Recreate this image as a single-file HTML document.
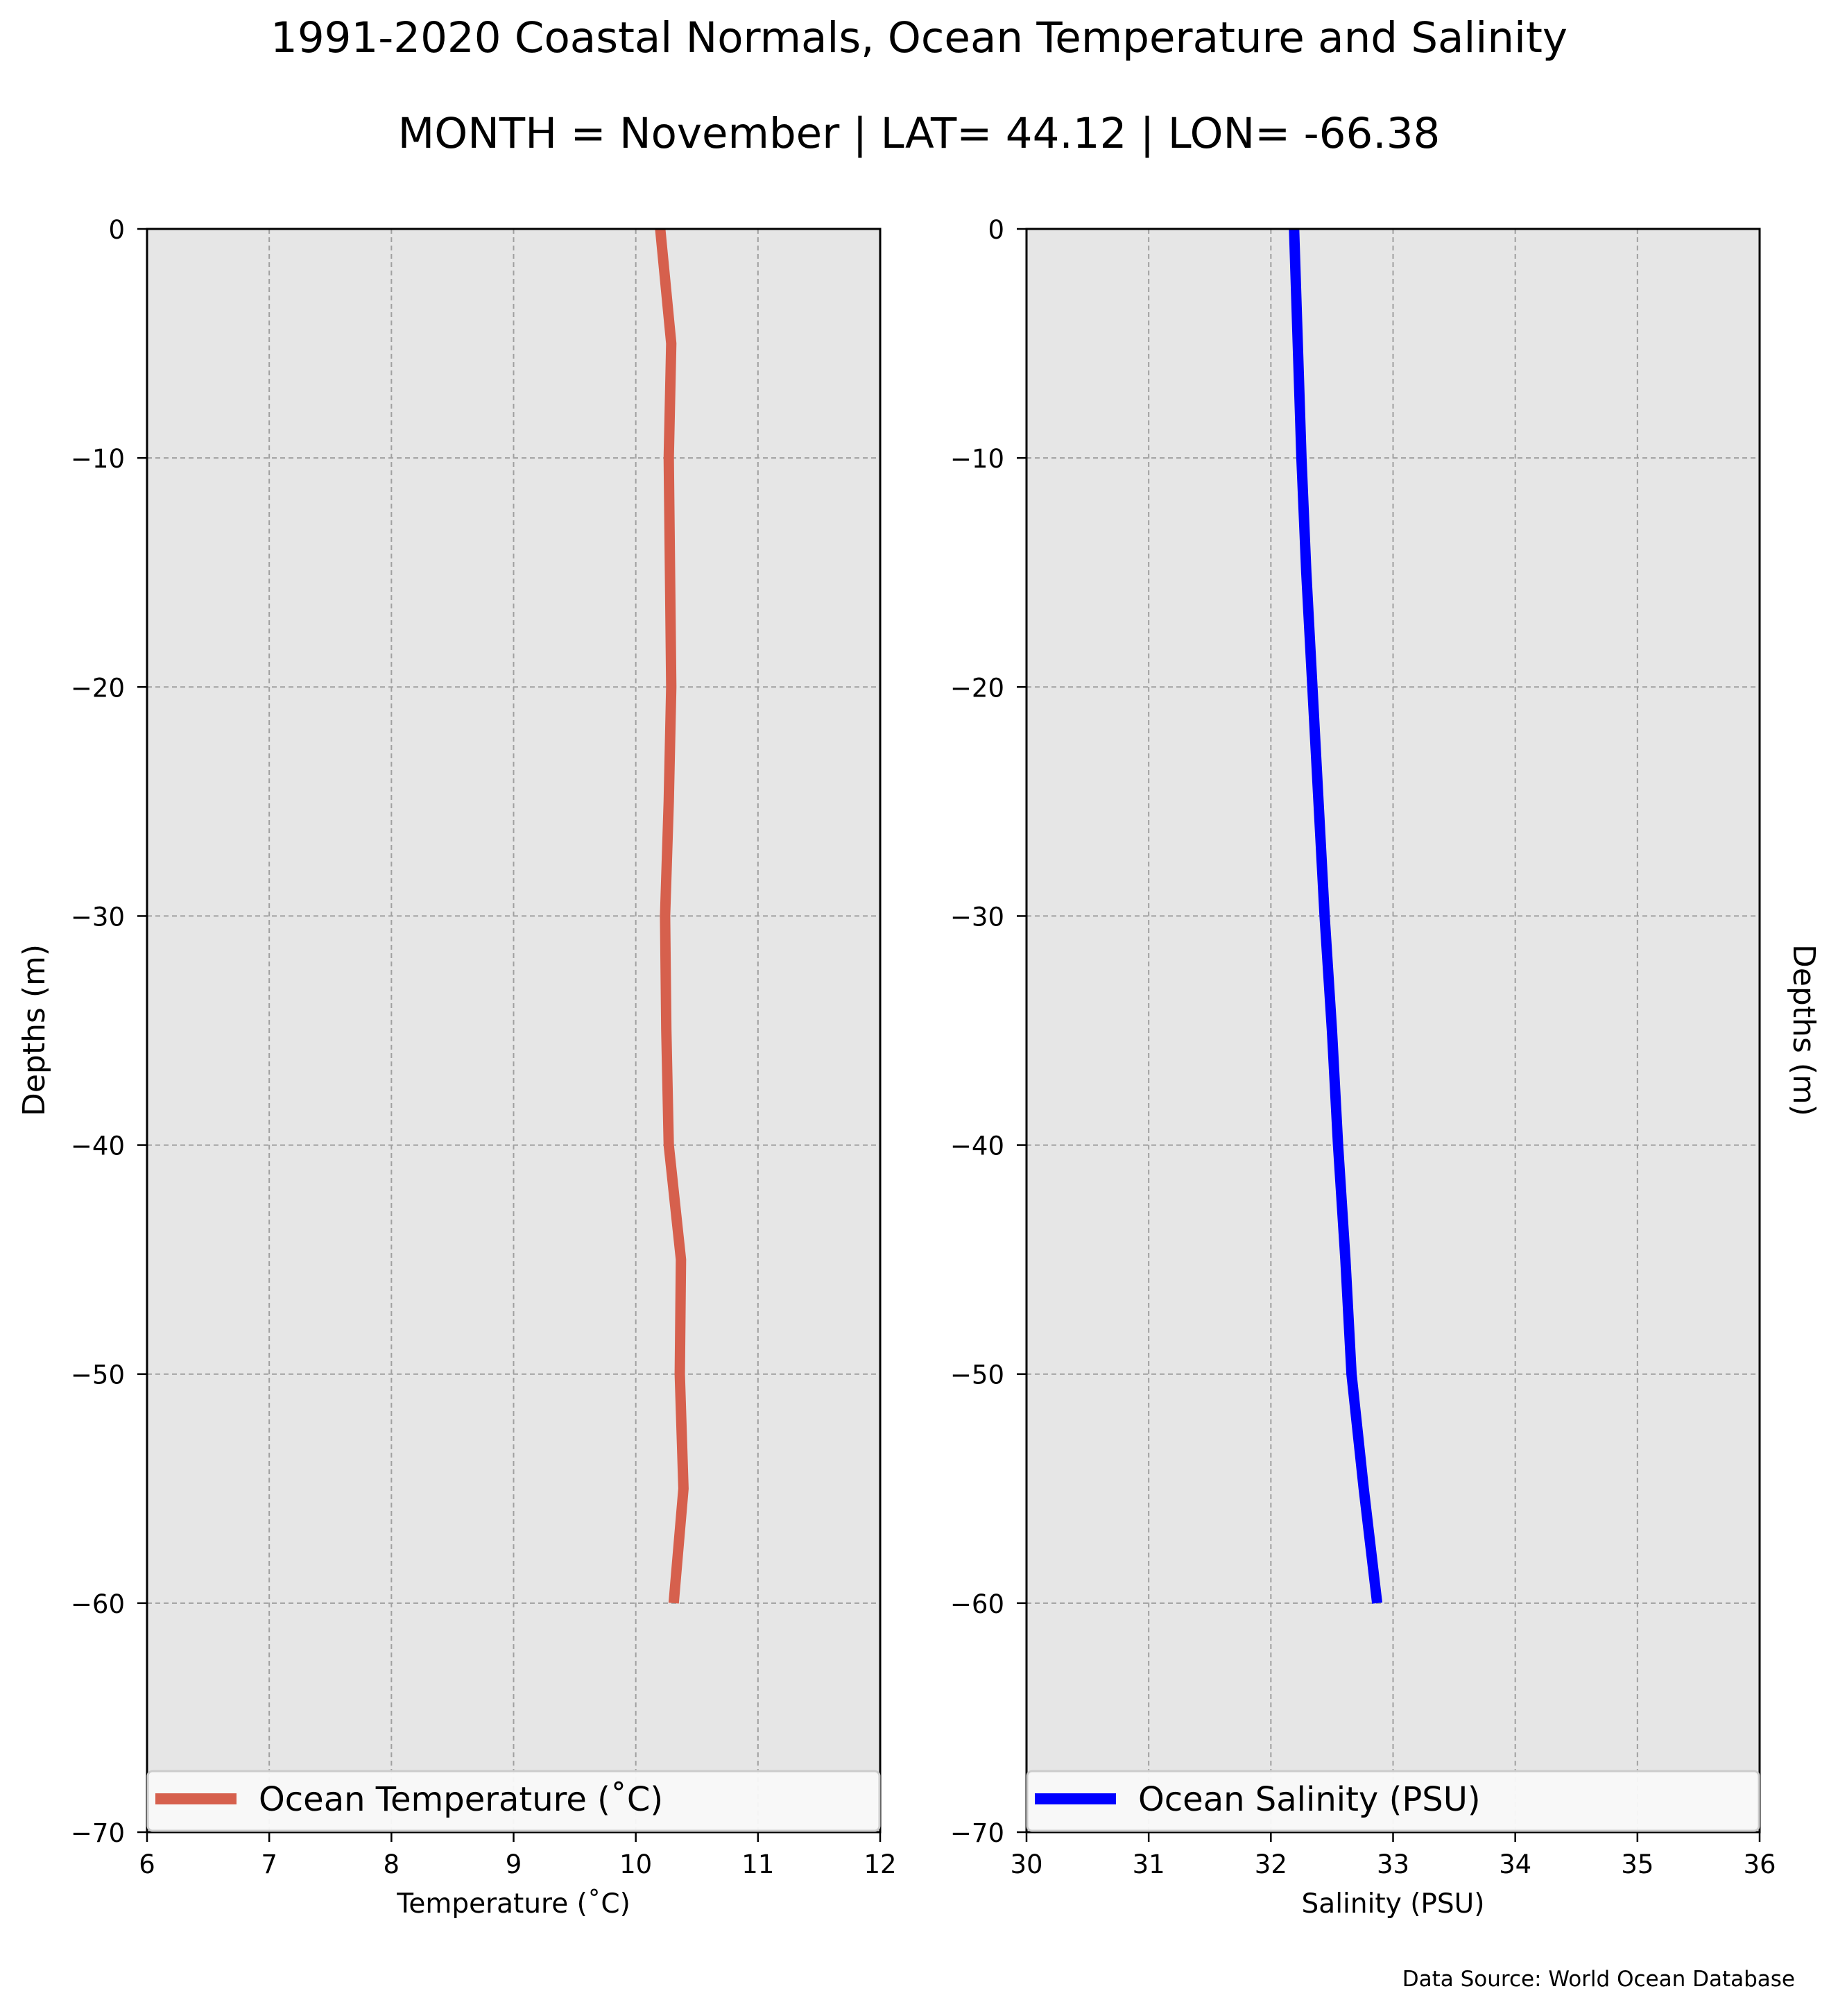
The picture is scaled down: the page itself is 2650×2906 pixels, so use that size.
<!DOCTYPE html>
<html><head><meta charset="utf-8"><style>
html,body{margin:0;padding:0;background:#fff;}
svg text{font-family:"DejaVu Sans","Liberation Sans",sans-serif;fill:#000;}
</style></head><body>
<svg id="fig" xmlns="http://www.w3.org/2000/svg" width="2650" height="2901" viewBox="0 0 2650 2901">
<rect width="2650" height="2901" fill="#fff"/>
<text x="1325" y="75" font-size="61" text-anchor="middle">1991-2020 Coastal Normals, Ocean Temperature and Salinity</text>
<text x="1325" y="213" font-size="61" text-anchor="middle">MONTH = November | LAT= 44.12 | LON= -66.38</text>
<text transform="translate(64,1485) rotate(-90)" font-size="44" text-anchor="middle">Depths (m)</text>
<text transform="translate(2586,1485) rotate(90)" font-size="44" text-anchor="middle">Depths (m)</text>
<text x="2588" y="2863" font-size="31" text-anchor="end">Data Source: World Ocean Database</text>
<g id="p1"></g><g id="p2"></g>
</svg>
<script>
const depths = [0,-5,-10,-15,-20,-25,-30,-35,-40,-45,-50,-55,-60];
const temperature = [10.20,10.29,10.27,10.28,10.29,10.27,10.24,10.25,10.27,10.37,10.36,10.39,10.31];
const salinity = [32.19,32.22,32.25,32.29,32.34,32.39,32.44,32.50,32.55,32.61,32.66,32.76,32.87];
const yTicks = [0,-10,-20,-30,-40,-50,-60,-70];
const tempTicks = [6,7,8,9,10,11,12];
const salTicks = [30,31,32,33,34,35,36];
const NS='http://www.w3.org/2000/svg';
function mk(tag, attrs, parent){const e=document.createElementNS(NS,tag);for(const k in attrs)e.setAttribute(k,attrs[k]);parent.appendChild(e);return e;}
const T=330,B=2641,W=1057;
function yS(d){return T+(0-d)/70*(B-T);}
function panel(g,L,xmin,xmax,xt,vals,color,legendText,xlabel,key){
  const xS=v=>L+(v-xmin)/(xmax-xmin)*W;
  const bg=mk('rect',{x:L,y:T,width:W,height:B-T,fill:'#e6e6e6'},g);
  
  
  xt.forEach(v=>{
    const gl=mk('line',{x1:xS(v),x2:xS(v),y1:T,y2:B,stroke:'#a0a0a0','stroke-width':2,'stroke-dasharray':'7,5'},g);
    
    
    const tk=mk('line',{x1:xS(v),x2:xS(v),y1:B,y2:B+14,stroke:'#000','stroke-width':2.5},g);
    
    
    const tl=mk('text',{x:xS(v),y:2700,'font-size':37,'text-anchor':'middle'},g);
    tl.textContent=v;
    
    
  });
  yTicks.forEach(v=>{
    const gl=mk('line',{x1:L,x2:L+W,y1:yS(v),y2:yS(v),stroke:'#a0a0a0','stroke-width':2,'stroke-dasharray':'7,5'},g);
    
    
    const tk=mk('line',{x1:L-14,x2:L,y1:yS(v),y2:yS(v),stroke:'#000','stroke-width':2.5},g);
    
    
    const tl=mk('text',{x:L-32,y:yS(v)+14,'font-size':37,'text-anchor':'end'},g);
    tl.textContent=(v<0?'\u2212'+(-v):v);
    
    
  });
  const pts=depths.map((d,i)=>xS(vals[i]).toFixed(1)+','+yS(d).toFixed(1)).join(' ');
  const ln=mk('polyline',{points:pts,fill:'none',stroke:color,'stroke-width':15,'stroke-linejoin':'miter'},g);
  
  
  const fr=mk('rect',{x:L,y:T,width:W,height:B-T,fill:'none',stroke:'#000','stroke-width':3},g);
  
  
  const lg=mk('g',{},g);
  
  
  mk('rect',{x:L+1,y:2553,width:W-2,height:86,rx:7,fill:'#f9f9f9','fill-opacity':0.95,stroke:'#cccccc','stroke-width':3},lg);
  mk('line',{x1:L+12,x2:L+129,y1:2593,y2:2593,stroke:color,'stroke-width':16},lg);
  const lt=mk('text',{x:L+161,y:2610,'font-size':48},lg);
  lt.textContent=legendText;
  
  
  const xl=mk('text',{x:L+W/2,y:2757,'font-size':39,'text-anchor':'middle'},g);
  xl.textContent=xlabel;
  
  
}
const p1=document.getElementById('p1');


const p2=document.getElementById('p2');


panel(p1,212,6,12,tempTicks,temperature,'#d6604d','Ocean Temperature (\u02DAC)','Temperature (\u02DAC)','temperature');
panel(p2,1480,30,36,salTicks,salinity,'#0000ff','Ocean Salinity (PSU)','Salinity (PSU)','salinity');
</script>
</body></html>
